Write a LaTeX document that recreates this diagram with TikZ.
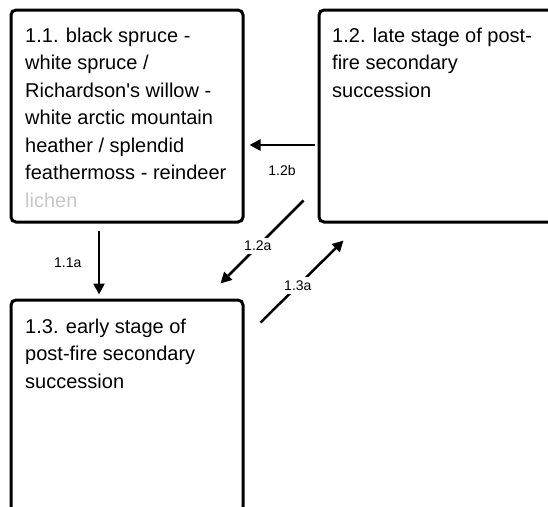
\documentclass[tikz,border=0pt]{standalone}
\usepackage{fontspec}
\setmainfont{Liberation Sans}
\usetikzlibrary{arrows.meta}

\tikzset{
  box/.style={draw, line width=3pt, rounded corners=5pt, minimum width=232pt, minimum height=212pt, inner sep=0pt},
  boxtext/.style={anchor=north west, align=left, inner sep=0pt, font=\fontsize{20}{27.5}\selectfont},
  flow/.style={line width=2.5pt, -{Triangle[length=11pt,width=11pt]}},
  lbl/.style={font=\fontsize{14}{16}\selectfont}
}

\begin{document}
\begin{tikzpicture}[x=1pt, y=-1pt]
    \useasboundingbox (0,0) rectangle (548,506);
    \node[box] (box11) at (127,116) {};
    \node[box, minimum width=240pt] (box12) at (439,116) {};
    \node[box] (box13) at (127,406) {};
    \node[boxtext] (t11) at (25,27.5) {1.1. black spruce -\\white spruce /\\Richardson\textquotesingle s willow -\\white arctic mountain\\heather / splendid\\feathermoss - reindeer\\\textcolor{black!22}{lichen}};
    \node[boxtext] (t12) at (332,27.5) {1.2. late stage of post-\\fire secondary\\succession};
    \node[boxtext] (t13) at (25,318.5) {1.3. early stage of\\post-fire secondary\\succession};
    \draw[flow] ([shift={(-3,29)}]box12.west) -- node[lbl, below=16pt] {1.2b} ([shift={(5,29)}]box11.east);
    \draw[flow] ([shift={(-28,7)}]box11.south) -- node[lbl, left=13pt] {1.1a} ([shift={(-28,-4)}]box13.north);
    \draw[flow] ([shift={(-14,-23)}]box12.south west) -- node[lbl, fill=white, pos=0.55] {1.2a} ([shift={(-24,-15)}]box13.north east);
    \draw[flow] ([shift={(16,24)}]box13.north east) -- node[lbl, fill=white, pos=0.45] {1.3a} ([shift={(26,17)}]box12.south west);
  \end{tikzpicture}
\end{document}
